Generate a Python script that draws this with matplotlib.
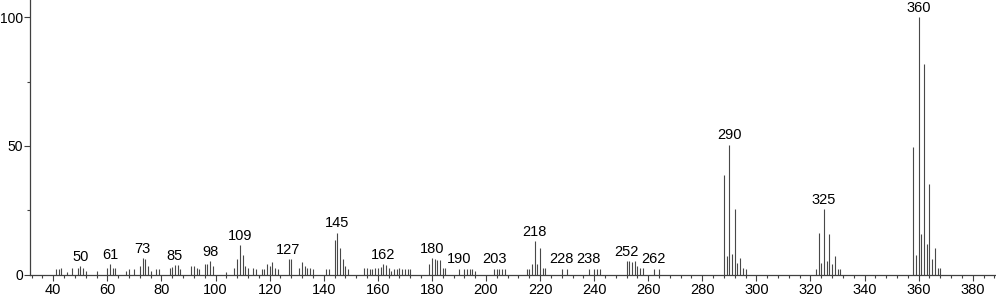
import matplotlib

matplotlib.use("Agg")
import matplotlib.pyplot as plt
from matplotlib.ticker import MultipleLocator

# m/z values and relative intensities
MZ = [
    41, 42, 43, 45, 47, 49, 50, 51, 52, 56,
    60, 61, 62, 63, 67, 68, 70, 72, 73, 74, 75, 76, 78, 79,
    83, 84, 85, 86, 87, 91, 92, 93, 94, 96, 97, 98, 99,
    104, 107, 108, 109, 110, 111, 112, 114, 115, 117, 118, 119, 120, 121,
    122, 123, 127, 128, 131, 132, 133, 134, 135, 136,
    141, 142, 144, 145, 146, 147, 148, 149,
    155, 156, 157, 158, 159, 160, 161, 162, 163, 164, 165, 166, 167, 168,
    169, 170, 171, 172,
    179, 180, 181, 182, 183, 184, 185, 190, 192, 193, 194, 195, 196,
    203, 204, 205, 206, 207, 215, 216, 217, 218, 219, 220, 221, 222,
    228, 230, 238, 240, 241, 242,
    252, 253, 254, 255, 256, 257, 258, 262, 264,
    288, 289, 290, 291, 292, 293, 294, 295, 296,
    322, 323, 324, 325, 326, 327, 328, 329, 330, 331,
    358, 359, 360, 361, 362, 363, 364, 365, 366, 367, 368,
]
INTENSITY = [
    2.2, 2.3, 2.5, 1.1, 2.5, 2.6, 3.3, 2.4, 1.5, 1.5,
    2.4, 3.9, 2.6, 2.4, 1.4, 2.1, 2.3, 3.4, 6.4, 6.0, 3.3, 1.2, 2.3, 2.3,
    2.4, 3.0, 3.8, 3.6, 2.3, 3.3, 3.3, 2.4, 2.3, 4.1, 4.0, 5.2, 3.3,
    1.1, 2.4, 6.0, 11.3, 7.7, 3.3, 2.4, 2.4, 2.3, 2.3, 2.3, 3.9, 3.3, 4.9,
    2.5, 2.3, 6.0, 6.0, 2.5, 4.9, 3.3, 2.5, 2.5, 2.3,
    2.3, 2.3, 13.3, 16.3, 10.2, 5.9, 3.3, 2.3,
    2.5, 2.5, 2.3, 2.3, 2.5, 2.5, 2.8, 3.9, 3.6, 2.5, 1.5, 2.0, 2.3, 2.5,
    2.3, 2.3, 2.3, 2.3,
    4.1, 6.4, 6.0, 5.6, 5.6, 2.5, 2.5, 2.3, 2.3, 2.3, 2.3, 2.3, 1.2,
    2.3, 2.3, 2.3, 2.3, 2.3, 2.3, 2.3, 4.1, 13.1, 4.1, 10.2, 2.5, 2.5,
    2.3, 2.3, 2.3, 2.3, 2.3, 2.3,
    5.2, 5.2, 4.7, 5.2, 3.3, 2.5, 2.5, 2.3, 2.3,
    38.7, 7.2, 50.5, 7.8, 25.5, 4.6, 6.4, 2.7, 2.3,
    2.3, 16.3, 4.6, 25.5, 5.4, 15.6, 4.0, 7.2, 2.3, 2.3,
    49.7, 7.7, 100.0, 15.6, 81.8, 11.9, 35.2, 6.0, 10.2, 2.7, 2.7,
]
LABELED = [50, 61, 73, 85, 98, 109, 127, 145, 162, 180, 190, 203,
           218, 228, 238, 252, 262, 290, 325, 360]

plt.rcParams["font.family"] = ["Liberation Sans", "DejaVu Sans"]

W, H = 996, 299
fig = plt.figure(figsize=(W / 100, H / 100), dpi=100)
ax = fig.add_axes([30.3 / W, (H - 274.5) / H, 1 - 30.3 / W, 274.5 / H])

ax.vlines(MZ, 0, INTENSITY, colors="#484848", linewidth=0.8)

for m in LABELED:
    y = INTENSITY[MZ.index(m)]
    ax.annotate(str(m), (m, y), xytext=(0, 1.5), textcoords="offset points",
                ha="center", va="bottom", fontsize=10.5)

ax.set_xlim(31.5, 388.6)
ax.set_ylim(0, 106.7)
ax.xaxis.set_major_locator(MultipleLocator(20))
ax.xaxis.set_minor_locator(MultipleLocator(4))
ax.yaxis.set_major_locator(MultipleLocator(50))
ax.yaxis.set_minor_locator(MultipleLocator(25))

for side in ("top", "right"):
    ax.spines[side].set_visible(False)
for side in ("left", "bottom"):
    ax.spines[side].set_color("#404040")
    ax.spines[side].set_linewidth(0.9)

ax.tick_params(which="both", direction="out", color="#404040", width=0.8)
ax.tick_params(which="major", length=4)
ax.tick_params(which="minor", length=2.5)
ax.tick_params(axis="x", labelsize=10.5, pad=2)
ax.tick_params(axis="y", labelsize=10, pad=1)
ax.set_xticks(range(40, 381, 20))

fig.savefig("out.png", dpi=100)
